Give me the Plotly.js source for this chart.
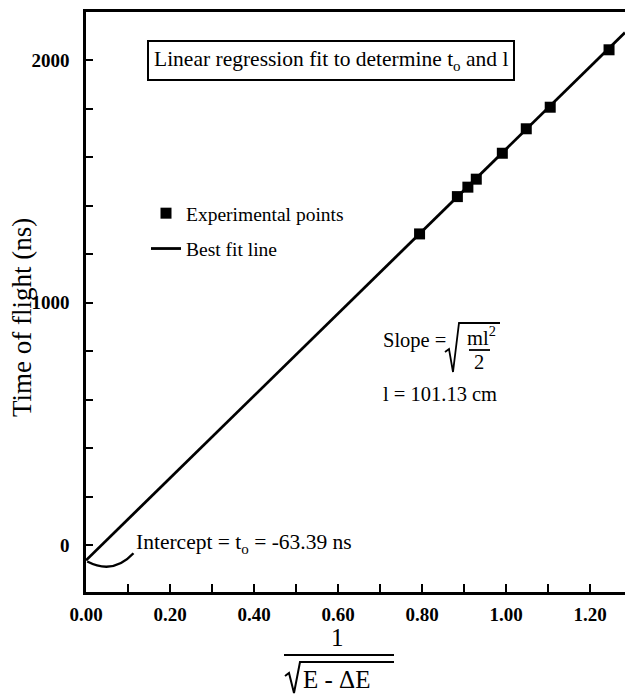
<!DOCTYPE html>
<html>
<head>
<meta charset="utf-8">
<script src="https://cdn.plot.ly/plotly-3.0.1.min.js"></script>
<style>html,body{margin:0;padding:0;background:#fff;}#chart{width:625px;height:697px;}</style>
</head>
<body>
<div id="chart"></div>
<script>
// ---- data ----
const expX = [0.794, 0.884, 0.909, 0.929, 0.991, 1.048, 1.105, 1.245];
const expY = [1284, 1438, 1477, 1510, 1617, 1718, 1807, 2044];
const fitX = [0.0, 1.283];
const fitY = [-63.39, 2115];
const xTickVals = [0, 0.2, 0.4, 0.6, 0.8, 1.0, 1.2];
const xTickText = ['0.00', '0.20', '0.40', '0.60', '0.80', '1.00', '1.20'];
const yTickVals = [0, 1000, 2000];
const yTickText = ['0', '1000', '2000'];
const seriesNames = ['Experimental points', 'Best fit line'];

// ---- layout helpers (pixel -> paper) ----
const W = 625, H = 697, ML = 86, MR = 0, MT = 12, MB = 105;
const PW = W - ML - MR, PH = H - MT - MB;
const fx = px => (px - ML) / PW;
const fy = py => (H - MB - py) / PH;
const FONT = 'Liberation Serif, Times New Roman, serif';

const traces = [
  {x: fitX, y: fitY, mode: 'lines', name: seriesNames[1],
   line: {color: '#000', width: 2.8}, legendrank: 2, legendgroup: 'b'},
  {x: expX, y: expY, mode: 'markers', name: seriesNames[0],
   marker: {symbol: 'square', size: 11, color: '#000'}, legendrank: 1, legendgroup: 'a'}
];

function ann(text, px, py, size, xanchor, extra) {
  return Object.assign({text: text, xref: 'paper', yref: 'paper', x: fx(px), y: fy(py),
    xanchor: xanchor || 'center', yanchor: 'middle', showarrow: false,
    font: {family: FONT, size: size, color: '#000'}}, extra || {});
}

const annotations = [
  ann('Linear regression fit to determine t<sub>o</sub> and l', 331, 60, 21.5, 'center',
      {bordercolor: '#000', borderwidth: 2, borderpad: 5}),
  ann('Intercept = t<sub>o</sub> = -63.39 ns', 134, 543, 21.5, 'left'),
  ann('Slope =', 381, 340, 20.5, 'left'),
  ann('ml<sup>2</sup>', 481, 336, 20.5, 'center'),
  ann('2', 479, 362, 20.5, 'center'),
  ann('l = 101.13 cm', 381, 394, 20.5, 'left'),
  ann('1', 337, 637, 25, 'center'),
  ann('E - ΔE', 301, 679, 25, 'left'),
  ann('Time of flight (ns)', 22, 318, 27, 'center', {textangle: -90})
];

const pth = pts => 'M' + pts.map(p => fx(p[0]) + ',' + fy(p[1])).join(' L');
const shapes = [
  // pointer arc from intercept to its label
  {type: 'path', xref: 'x', yref: 'y', path: 'M 0.003,-68 Q 0.065,-124 0.113,-34',
   line: {color: '#000', width: 2.4}},
  // slope radical and fraction bar
  {type: 'path', xref: 'paper', yref: 'paper',
   path: pth([[445, 352], [449, 349], [453, 372], [459, 323], [500, 323]]),
   line: {color: '#000', width: 1.8}},
  {type: 'line', xref: 'paper', yref: 'paper', x0: fx(469), x1: fx(490), y0: fy(350), y1: fy(350),
   line: {color: '#000', width: 1.8}},
  // x-axis title fraction
  {type: 'line', xref: 'paper', yref: 'paper', x0: fx(284), x1: fx(394), y0: fy(655), y1: fy(655),
   line: {color: '#000', width: 2}},
  {type: 'path', xref: 'paper', yref: 'paper',
   path: pth([[285, 676], [289, 673], [294, 693], [300, 662], [394, 662]]),
   line: {color: '#000', width: 2}}
];

const layout = {
  width: W, height: H,
  margin: {l: ML, r: MR, t: MT, b: MB, pad: 0},
  paper_bgcolor: '#fff', plot_bgcolor: '#fff',
  font: {family: FONT, color: '#000'},
  showlegend: true,
  legend: {x: fx(146), y: fy(194), xanchor: 'left', yanchor: 'top',
    font: {family: FONT, size: 19.5, color: '#000'}, traceorder: 'grouped', tracegroupgap: 7,
    bgcolor: 'rgba(0,0,0,0)', borderwidth: 0, itemwidth: 30},
  xaxis: {range: [0, 1.283], showgrid: false, zeroline: false, showline: true, mirror: true,
    linecolor: '#000', linewidth: 2.8, ticks: 'inside', ticklen: 8, tickwidth: 2, tickcolor: '#000',
    tickmode: 'array', tickvals: xTickVals, ticktext: xTickText,
    minor: {tickmode: 'linear', tick0: 0, dtick: 0.1, ticks: 'inside', ticklen: 8, tickwidth: 2, tickcolor: '#000', showgrid: false},
    tickfont: {family: FONT, size: 19, color: '#000', weight: 'bold'}, ticklabelstandoff: 3},
  yaxis: {range: [-194, 2200], showgrid: false, zeroline: false, showline: true, mirror: false,
    linecolor: '#000', linewidth: 2.8, ticks: 'inside', ticklen: 7, tickwidth: 2, tickcolor: '#000',
    tickmode: 'array', tickvals: yTickVals, ticktext: yTickText,
    minor: {tickmode: 'linear', tick0: 0, dtick: 200, ticks: 'inside', ticklen: 7, tickwidth: 2, tickcolor: '#000', showgrid: false},
    tickfont: {family: FONT, size: 19, color: '#000', weight: 'bold'}, ticklabelstandoff: 10},
  annotations: annotations,
  shapes: shapes
};

Plotly.newPlot('chart', traces, layout, {staticPlot: true, displayModeBar: false});
</script>
</body>
</html>
